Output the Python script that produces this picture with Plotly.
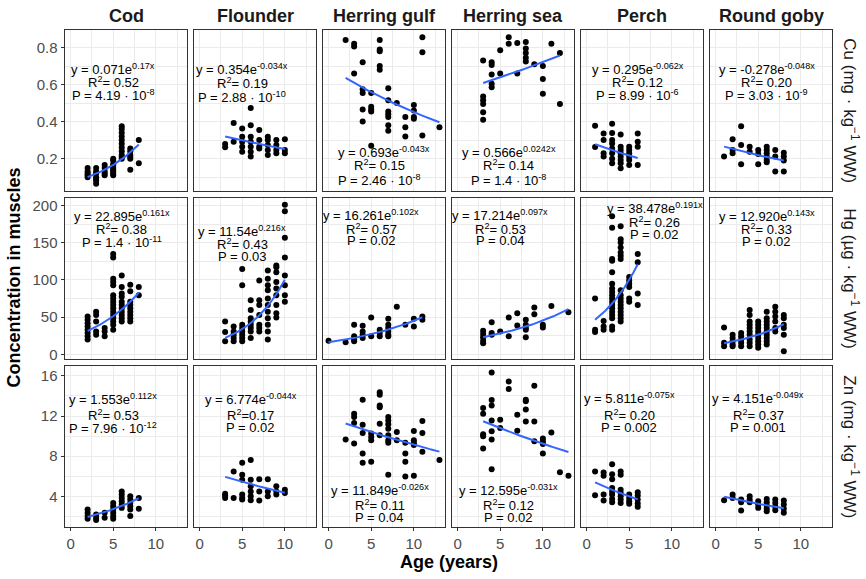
import numpy as np
import plotly.graph_objects as go

species = ["Cod", "Flounder", "Herring gulf", "Herring sea", "Perch", "Round goby"]
element_titles = ["Cu (mg · kg<sup>−1</sup> WW)",
                  "Hg (µg · kg<sup>−1</sup> WW)",
                  "Zn (mg · kg<sup>−1</sup> WW)"]

# ---- Cu (mg/kg WW): age (years) -> measured concentrations ----
cu_cod = {2: [0.15, 0.13, 0.12, 0.11, 0.10],
          3: [0.15, 0.13, 0.12, 0.10, 0.09, 0.08, 0.065],
          4: [0.165, 0.15, 0.13, 0.12, 0.11],
          5: [0.20, 0.19, 0.17, 0.16, 0.15, 0.14, 0.13, 0.12, 0.11],
          6: [0.375, 0.36, 0.34, 0.32, 0.30, 0.28, 0.26, 0.24, 0.22, 0.21, 0.20],
          7: [0.255, 0.24, 0.22, 0.21, 0.20, 0.14],
          8: [0.30, 0.175]}
cu_flounder = {3: [0.279, 0.261],
               4: [0.393, 0.291],
               5: [0.363, 0.318, 0.291, 0.264, 0.237],
               6: [0.473, 0.380, 0.318, 0.291, 0.264, 0.237, 0.211],
               7: [0.354, 0.30, 0.264, 0.255],
               8: [0.318, 0.30, 0.273, 0.246, 0.22],
               9: [0.30, 0.273, 0.246, 0.229],
               10: [0.304, 0.246, 0.229]}
cu_herring_gulf = {2: [0.84],
                   3: [0.82, 0.805, 0.66],
                   4: [0.72, 0.575, 0.555, 0.465, 0.40],
                   5: [0.555, 0.48, 0.465, 0.455, 0.27],
                   6: [0.84, 0.79, 0.78, 0.70, 0.68],
                   7: [0.58, 0.515, 0.455, 0.44, 0.425, 0.38, 0.35],
                   8: [0.50],
                   9: [0.425, 0.37, 0.32],
                   10: [0.49, 0.46, 0.425, 0.415],
                   11: [0.855, 0.775, 0.325],
                   13: [0.37]}
cu_herring_sea = {3: [0.73, 0.535, 0.515, 0.495, 0.45, 0.41],
                  4: [0.72, 0.705, 0.655, 0.605, 0.585],
                  5: [0.785, 0.66],
                  6: [0.855, 0.82],
                  7: [0.825, 0.66],
                  8: [0.83, 0.795, 0.77, 0.745, 0.725],
                  9: [0.71],
                  10: [0.70, 0.63, 0.55],
                  11: [0.82],
                  12: [0.77, 0.495]}
cu_perch = {1: [0.377, 0.263],
            2: [0.336, 0.30, 0.229, 0.211],
            3: [0.389, 0.339, 0.30, 0.282, 0.255, 0.229, 0.20, 0.175],
            4: [0.33, 0.264, 0.246, 0.229, 0.211, 0.193, 0.175, 0.148],
            5: [0.264, 0.246, 0.229, 0.211, 0.193, 0.166],
            6: [0.336, 0.291, 0.264, 0.166]}
cu_round_goby = {1: [0.211],
                 2: [0.304, 0.246, 0.229],
                 3: [0.375, 0.273, 0.17],
                 4: [0.264, 0.237],
                 5: [0.246, 0.225, 0.17],
                 6: [0.264, 0.246, 0.229, 0.211, 0.193, 0.18],
                 7: [0.246, 0.211, 0.13],
                 8: [0.232, 0.211, 0.19, 0.13]}

# ---- Hg (µg/kg WW) ----
hg_cod = {2: [50.8, 46.4, 41.9, 37.5, 33.1, 28.7, 24.3, 19.9],
          3: [57.4, 53.0, 44.2, 30.9, 26.5],
          4: [35.3, 30.9, 24.3],
          5: [134.7, 130.2, 101.5, 97.1, 92.7, 79.5, 75.1, 70.6, 66.2, 61.8,
              57.4, 53.0, 48.6, 44.2, 39.7, 33.1],
          6: [106.0, 90.5, 81.7, 77.3, 70.6, 66.2, 61.8, 57.4, 53.0, 48.6, 44.2],
          7: [93.6, 84.8, 70.6, 66.2, 61.8, 57.4, 53.0, 48.6, 44.2],
          8: [90.5, 79.5]}
hg_flounder = {3: [44.1, 30.0, 17.7],
               4: [37.5, 30.9, 26.5, 22.1, 17.7],
               5: [114.8, 92.7, 39.7, 35.3, 30.9, 26.5, 22.1, 17.7],
               6: [72.8, 59.6, 48.6, 44.2, 39.7, 35.3, 30.9, 22.1],
               7: [99.3, 72.8, 66.2, 53.0, 39.7, 35.3, 30.9],
               8: [112.6, 101.5, 92.7, 86.1, 75.1, 66.2, 57.4, 48.6, 39.7, 30.9, 19.9],
               9: [119.2, 117.0, 110.4, 97.1, 88.3, 79.5, 66.2, 55.2, 49.4],
               10: [200.9, 192.0, 156.7, 130.2, 106.0, 92.7, 79.5, 70.6]}
hg_herring_gulf = {0: [18.5],
                   2: [16.3],
                   3: [39.7, 24.3, 19.9, 17.7],
                   4: [38.4, 30.9, 26.5, 22.1],
                   5: [49.4, 24.3],
                   6: [33.1, 28.7, 24.3],
                   7: [47.7, 39.7, 35.3, 30.9, 26.5, 24.3],
                   8: [64.0],
                   9: [39.7],
                   10: [47.7, 37.5],
                   11: [50.8, 46.4]}
hg_herring_sea = {3: [31.8, 27.4, 23.0, 18.5, 15.0],
                  4: [43.3, 28.7, 26.5],
                  5: [30.9],
                  6: [49.4, 24.3],
                  7: [55.2, 38.9],
                  8: [46.4, 39.7, 35.3, 33.1, 23.0],
                  9: [63.1, 53.9],
                  10: [39.7, 36.2],
                  11: [64.9],
                  13: [56.5]}
hg_perch = {1: [75.1, 33.1, 30.0],
            2: [45.0, 37.5, 33.1],
            3: [185.4, 170.0, 128.0, 125.8, 110.4, 95.0, 88.3, 83.9, 79.5, 75.1,
                70.6, 66.2, 61.8, 57.4, 53.0, 48.6, 37.5, 33.1],
            4: [172.0, 154.5, 150.1, 143.5, 136.9, 132.5, 128.0, 86.1, 79.5, 75.1,
                70.6, 66.2, 61.8, 57.4, 53.0, 48.6, 44.2],
            5: [103.8, 99.3, 95.0, 90.5, 75.1, 70.6],
            6: [134.7, 123.6, 81.7, 66.2]}
hg_round_goby = {1: [36.2, 15.5, 11.0],
                 2: [26.5, 22.1, 17.7, 13.2, 11.0],
                 3: [28.7, 24.3, 19.9, 15.5, 11.0],
                 4: [59.6, 53.0, 44.2, 39.7, 35.3, 30.9, 26.5, 19.9, 15.5, 11.0],
                 5: [44.2, 39.7, 35.3, 30.9, 26.5, 22.1, 17.7, 13.2, 8.8],
                 6: [57.4, 48.6, 44.2, 39.7, 35.3, 30.9, 26.5, 22.1, 17.7, 13.2],
                 7: [64.0, 57.4, 50.8, 44.2, 35.3, 30.9],
                 8: [53.0, 48.6, 39.7, 35.3, 26.5, 4.4]}

# ---- Zn (mg/kg WW) ----
zn_cod = {2: [2.69, 2.36, 2.03, 1.77],
          3: [2.19, 1.86, 1.63],
          4: [2.36, 1.86],
          5: [3.34, 3.01, 2.69, 2.36, 2.03, 1.77],
          6: [4.49, 4.17, 3.84, 3.51, 3.18, 2.85],
          7: [4.0, 3.67, 3.34, 3.01, 2.69, 2.03],
          8: [3.84, 2.75]}
zn_flounder = {3: [4.26, 4.07, 3.84],
               4: [6.47, 3.84],
               5: [7.35, 6.14, 5.64, 4.17, 3.84, 3.67],
               6: [7.62, 5.64, 4.99, 4.49, 4.0, 3.6],
               7: [5.71, 4.49, 3.57],
               8: [5.71, 4.49, 4.0],
               9: [4.99, 4.49, 4.17],
               10: [4.66, 4.33]}
zn_herring_gulf = {2: [9.66],
                   3: [12.22, 11.9, 11.3, 9.26],
                   4: [13.63, 11.13, 10.31, 8.27, 7.35],
                   5: [10.25, 9.92, 9.59, 7.45],
                   6: [14.36, 14.13, 13.04, 12.88, 11.23, 10.08],
                   7: [11.9, 11.56, 11.17, 10.74, 10.08, 9.59, 9.33, 6.14],
                   8: [10.41, 9.59],
                   9: [9.33, 8.27, 7.45, 5.97],
                   10: [10.51, 9.59, 9.33, 9.1, 6.04],
                   11: [11.5, 10.31, 8.44],
                   13: [7.62]}
zn_herring_sea = {3: [12.81, 12.22, 10.18, 9.98, 8.77],
                  4: [16.33, 13.6, 13.04, 11.56, 10.48, 9.66, 6.7],
                  5: [11.63, 10.81],
                  6: [15.44, 14.69],
                  7: [12.12, 10.54],
                  8: [13.63, 13.47, 12.65, 11.46],
                  9: [15.01, 11.46, 9.49],
                  10: [9.75, 9.49, 9.2, 8.27],
                  11: [10.35],
                  12: [6.4],
                  13: [6.04]}
zn_perch = {1: [6.47, 4.1],
            2: [6.37, 6.04, 4.17, 3.57],
            3: [7.19, 6.2, 5.71, 4.82, 4.49, 4.17, 3.74, 3.41],
            4: [6.47, 6.14, 4.66, 4.33, 4.0, 3.67, 3.34],
            5: [4.17, 3.84, 3.51, 3.25],
            6: [4.4, 4.07, 3.67, 3.28, 2.95]}
zn_round_goby = {1: [3.61],
                 2: [4.17, 3.84],
                 3: [3.67, 3.41, 2.59],
                 4: [4.0, 3.67, 3.41],
                 5: [3.51, 3.18, 2.85],
                 6: [3.74, 3.41, 3.08, 2.75, 2.52],
                 7: [3.67, 3.34, 2.95, 2.62],
                 8: [3.57, 3.18, 2.75, 2.36]}

# ---- exponential fits y = a * exp(b * age), as printed ----
cu_a = ["0.071", "0.354", "0.693", "0.566", "0.295", "-0.278"]
cu_b = ["0.17", "-0.034", "-0.043", "0.0242", "-0.062", "-0.048"]
cu_r2 = ["0.52", "0.19", "0.15", "0.14", "0.12", "0.20"]
cu_p = ["4.19 · 10<sup>-8</sup>", "2.88 · 10<sup>-10</sup>", "2.46 · 10<sup>-8</sup>",
        "1.4 · 10<sup>-8</sup>", "8.99 · 10<sup>-6</sup>", "3.03 · 10<sup>-9</sup>"]

hg_a = ["22.895", "11.54", "16.261", "17.214", "38.478", "12.920"]
hg_b = ["0.161", "0.216", "0.102", "0.097", "0.191", "0.143"]
hg_r2 = ["0.38", "0.43", "0.57", "0.53", "0.26", "0.33"]
hg_p = ["1.4 · 10<sup>-11</sup>", "0.03", "0.02", "0.04", "0.02", "0.02"]

zn_a = ["1.553", "6.774", "11.849", "12.595", "5.811", "4.151"]
zn_b = ["0.112", "-0.044", "-0.026", "-0.031", "-0.075", "-0.049"]
zn_r2 = ["0.53", "0.17", "0.11", "0.12", "0.20", "0.37"]
zn_p = ["7.96 · 10<sup>-12</sup>", "0.02", "0.04", "0.02", "0.002", "0.001"]

rows = [
    dict(data=[cu_cod, cu_flounder, cu_herring_gulf, cu_herring_sea, cu_perch, cu_round_goby],
         a=cu_a, b=cu_b, r2=cu_r2, p=cu_p),
    dict(data=[hg_cod, hg_flounder, hg_herring_gulf, hg_herring_sea, hg_perch, hg_round_goby],
         a=hg_a, b=hg_b, r2=hg_r2, p=hg_p),
    dict(data=[zn_cod, zn_flounder, zn_herring_gulf, zn_herring_sea, zn_perch, zn_round_goby],
         a=zn_a, b=zn_b, r2=zn_r2, p=zn_p),
]

# ---- layout: panel geometry (pixels), axis ranges, ticks, label placement ----
W, H = 866, 579
col_left = [65, 194, 323, 452, 581, 710]
col_width = 122
row_top = [29, 198.5, 368]
row_height = 162.5

x_range = [-0.65, 13.65]
y_ranges = [[0.026, 0.896], [-6.0, 210.2], [0.95, 17.0]]
y_ticks = [[0.2, 0.4, 0.6, 0.8], [0, 50, 100, 150, 200], [4, 8, 12, 16]]
y_ticktext = [["0.2", "0.4", "0.6", "0.8"], ["0", "50", "100", "150", "200"],
              ["4", "8", "12", "16"]]
y_minor = [[0.1, 0.3, 0.5, 0.7], [25, 75, 125, 175], [2, 6, 10, 14]]

# fit-label anchors: (x of each line, y of each line) per panel
label_x = [[(5, 5, 5), (5, 5, 5), (6.5, 6, 6), (6, 6, 6), (6, 6, 6), (6, 6, 6)],
           [(6, 6, 6), (5, 5, 5), (5, 5, 5), (5, 5, 5), (8, 8, 8), (6, 6, 6)],
           [(5, 5, 5), (6, 6, 6), (6, 6, 6), (6, 6, 6), (5, 5, 5), (5, 5, 5)]]
label_y = [[(0.684, 0.612, 0.541), (0.684, 0.607, 0.535), (0.238, 0.163, 0.086),
            (0.238, 0.163, 0.086), (0.684, 0.612, 0.541), (0.684, 0.612, 0.541)],
           [(185.4, 167.8, 150.2), (165.6, 147.9, 131.1), (187.7, 167.8, 152.3),
            (187.7, 167.8, 152.3), (196.6, 178.0, 160.3), (186.4, 167.8, 151.5)],
           [(13.69, 12.11, 10.83), (13.69, 12.11, 10.83), (4.66, 3.11, 1.86),
            (4.66, 3.11, 1.86), (13.79, 12.11, 10.9), (13.79, 12.11, 10.9)]]

FONT = "Liberation Sans, Arial, Helvetica, sans-serif"
GRID = "#EBEBEB"
BORDER = "#333333"
TICKCOL = "#4D4D4D"
BLUE = "#3366FF"

fig = go.Figure()
layout = {}
annotations = []

for r in range(3):
    row = rows[r]
    for c in range(6):
        idx = r * 6 + c + 1
        xs = "x" if idx == 1 else f"x{idx}"
        ys = "y" if idx == 1 else f"y{idx}"
        xkey = "xaxis" if idx == 1 else f"xaxis{idx}"
        ykey = "yaxis" if idx == 1 else f"yaxis{idx}"

        x0 = col_left[c] / W
        x1 = (col_left[c] + col_width) / W
        y1 = 1 - row_top[r] / H
        y0 = 1 - (row_top[r] + row_height) / H

        bottom = r == 2
        left = c == 0
        layout[xkey] = dict(
            domain=[x0, x1], anchor=ys, range=x_range, tickmode="array",
            tickvals=[0, 5, 10], ticktext=["0", "5", "10"],
            showticklabels=bottom, ticks="outside" if bottom else "",
            ticklen=3.5, tickwidth=1, tickcolor=BORDER,
            tickfont=dict(family=FONT, size=15, color=TICKCOL),
            showgrid=True, gridcolor=GRID, gridwidth=1, zeroline=False,
            showline=True, mirror=True, linecolor=BORDER, linewidth=1,
            minor=dict(tickmode="array", tickvals=[2.5, 7.5, 12.5], showgrid=True,
                       gridcolor=GRID, gridwidth=0.5),
            fixedrange=True)
        layout[ykey] = dict(
            domain=[y0, y1], anchor=xs, range=y_ranges[r], tickmode="array",
            tickvals=y_ticks[r], ticktext=y_ticktext[r],
            showticklabels=left, ticks="outside" if left else "",
            ticklen=3.5, tickwidth=1, tickcolor=BORDER,
            tickfont=dict(family=FONT, size=15, color=TICKCOL),
            showgrid=True, gridcolor=GRID, gridwidth=1, zeroline=False,
            showline=True, mirror=True, linecolor=BORDER, linewidth=1,
            minor=dict(tickmode="array", tickvals=y_minor[r], showgrid=True,
                       gridcolor=GRID, gridwidth=0.5),
            fixedrange=True)

        # scatter of individual fish
        pts = row["data"][c]
        ages, vals = [], []
        for age, values in pts.items():
            ages += [age] * len(values)
            vals += values
        fig.add_trace(go.Scatter(x=ages, y=vals, mode="markers", xaxis=xs, yaxis=ys,
                                 marker=dict(color="black", size=6, line=dict(width=0)),
                                 showlegend=False, hoverinfo="skip"))

        # fitted exponential curve over the observed age span
        a = abs(float(row["a"][c]))
        b = float(row["b"][c])
        xf = np.linspace(min(ages), max(ages), 80)
        fig.add_trace(go.Scatter(x=xf, y=a * np.exp(b * xf), mode="lines", xaxis=xs,
                                 yaxis=ys, line=dict(color=BLUE, width=2),
                                 showlegend=False, hoverinfo="skip"))

        # equation, R² and P
        lines = [f"y = {row['a'][c]}e<sup>{row['b'][c]}x</sup>",
                 f"R<sup>2</sup>= {row['r2'][c]}" if not (r == 2 and c == 1)
                 else f"R<sup>2</sup>={row['r2'][c]}",
                 f"P = {row['p'][c]}"]
        for k in range(3):
            annotations.append(dict(
                x=label_x[r][c][k], y=label_y[r][c][k], xref=xs, yref=ys,
                text=lines[k], showarrow=False, xanchor="center", yanchor="middle",
                font=dict(family=FONT, size=13, color="black")))

# column strips
for c in range(6):
    annotations.append(dict(
        x=(col_left[c] + col_width / 2) / W, y=1 - 15 / H, xref="paper", yref="paper",
        text=f"<b>{species[c]}</b>", showarrow=False, xanchor="center", yanchor="middle",
        font=dict(family=FONT, size=18, color="#1A1A1A")))

# row strips
for r in range(3):
    annotations.append(dict(
        x=851 / W, y=1 - (row_top[r] + row_height / 2) / H, xref="paper", yref="paper",
        text=element_titles[r], showarrow=False, textangle=90,
        xanchor="center", yanchor="middle",
        font=dict(family=FONT, size=17, color="#1A1A1A")))

# axis titles
annotations.append(dict(
    x=14 / W, y=1 - 279 / H, xref="paper", yref="paper",
    text="<b>Concentration in muscles</b>", showarrow=False, textangle=-90,
    xanchor="center", yanchor="middle", font=dict(family=FONT, size=18, color="black")))
annotations.append(dict(
    x=449 / W, y=1 - 566 / H, xref="paper", yref="paper",
    text="<b>Age (years)</b>", showarrow=False, xanchor="center", yanchor="middle",
    font=dict(family=FONT, size=18, color="black")))

fig.update_layout(
    width=W, height=H, margin=dict(l=0, r=0, t=0, b=0),
    paper_bgcolor="white", plot_bgcolor="white",
    annotations=annotations, **layout)

fig.write_html("out.html")
